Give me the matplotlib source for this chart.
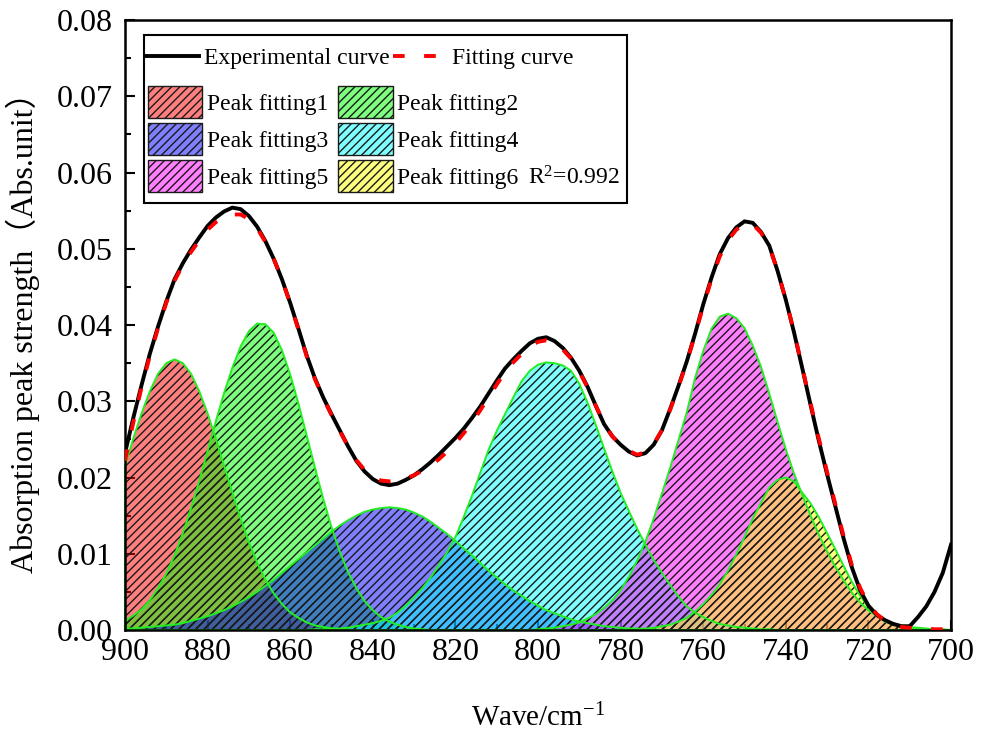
#!/usr/bin/env python3

import matplotlib

matplotlib.use("Agg")
import matplotlib.pyplot as plt
from matplotlib.colors import to_rgb
from matplotlib.lines import Line2D
from matplotlib.patches import Patch, Rectangle
from matplotlib.ticker import MultipleLocator

# sampling grids (cm^-1), every 2 cm^-1 across the span of each trace
wave = list(range(900, 699, -2))
wave_p1 = list(range(900, 845, -2))
wave_p2 = list(range(900, 825, -2))
wave_p3 = list(range(900, 769, -2))
wave_p4 = list(range(856, 741, -2))
wave_p5 = list(range(804, 699, -2))
wave_p6 = list(range(780, 703, -2))

experimental = [
    0.0232, 0.0278, 0.0321, 0.0362, 0.0398, 0.0431, 0.0460, 0.0481, 0.0499, 0.0515,
    0.0530, 0.0541, 0.0549, 0.0554, 0.0552, 0.0543, 0.0529, 0.0510, 0.0487, 0.0460,
    0.0429, 0.0395, 0.0360, 0.0330, 0.0305, 0.0283, 0.0262, 0.0241, 0.0222, 0.0208,
    0.0198, 0.0192, 0.0190, 0.0192, 0.0197, 0.0203, 0.0211, 0.0220, 0.0230, 0.0241,
    0.0252, 0.0264, 0.0278, 0.0293, 0.0310, 0.0327, 0.0343, 0.0355, 0.0366, 0.0376,
    0.0382, 0.0384, 0.0379, 0.0370, 0.0357, 0.0340, 0.0319, 0.0294, 0.0270, 0.0254,
    0.0243, 0.0234, 0.0229, 0.0232, 0.0243, 0.0262, 0.0290, 0.0320, 0.0352, 0.0388,
    0.0427, 0.0462, 0.0493, 0.0514, 0.0528, 0.0536, 0.0534, 0.0522, 0.0504, 0.0471,
    0.0433, 0.0390, 0.0343, 0.0295, 0.0248, 0.0204, 0.0162, 0.0120, 0.0082, 0.0052,
    0.0032, 0.0020, 0.0013, 0.0008, 0.0005, 0.0005, 0.0017, 0.0031, 0.0050, 0.0075,
    0.0112,
]

fitting = [
    0.0222, 0.0272, 0.0318, 0.0359, 0.0396, 0.0429, 0.0458, 0.0479, 0.0496, 0.0511,
    0.0525, 0.0535, 0.0542, 0.0545, 0.0545, 0.0539, 0.0527, 0.0509, 0.0487, 0.0460,
    0.0428, 0.0394, 0.0359, 0.0329, 0.0304, 0.0282, 0.0261, 0.0241, 0.0223, 0.0210,
    0.0201, 0.0196, 0.0195, 0.0196, 0.0199, 0.0203, 0.0209, 0.0216, 0.0224, 0.0234,
    0.0245, 0.0258, 0.0272, 0.0288, 0.0305, 0.0322, 0.0338, 0.0351, 0.0362, 0.0372,
    0.0378, 0.0380, 0.0376, 0.0368, 0.0356, 0.0339, 0.0318, 0.0294, 0.0271, 0.0254,
    0.0243, 0.0235, 0.0230, 0.0233, 0.0244, 0.0262, 0.0289, 0.0319, 0.0351, 0.0387,
    0.0425, 0.0460, 0.0490, 0.0511, 0.0525, 0.0533, 0.0532, 0.0521, 0.0503, 0.0471,
    0.0433, 0.0391, 0.0344, 0.0297, 0.0251, 0.0207, 0.0165, 0.0123, 0.0085, 0.0055,
    0.0034, 0.0021, 0.0012, 0.0007, 0.0004, 0.0003, 0.0002, 0.0002, 0.0001, 0.0001,
    0.0001,
]

peak1 = [
    0.0215, 0.0251, 0.0284, 0.0313, 0.0336, 0.0350, 0.0355, 0.0350, 0.0336, 0.0313,
    0.0284, 0.0251, 0.0215, 0.0180, 0.0146, 0.0115, 0.0088, 0.0066, 0.0048, 0.0034,
    0.0023, 0.0016, 0.0010, 0.0006, 0.0004, 0.0002, 0.0001, 0.0000,
]

peak2 = [
    0.0012, 0.0019, 0.0027, 0.0039, 0.0055, 0.0074, 0.0098, 0.0127, 0.0160, 0.0196,
    0.0235, 0.0274, 0.0311, 0.0344, 0.0372, 0.0392, 0.0402, 0.0401, 0.0390, 0.0367,
    0.0335, 0.0297, 0.0255, 0.0213, 0.0172, 0.0135, 0.0103, 0.0076, 0.0055, 0.0038,
    0.0026, 0.0017, 0.0011, 0.0007, 0.0004, 0.0002, 0.0001, 0.0000,
]

peak3 = [
    0.0002, 0.0002, 0.0003, 0.0004, 0.0005, 0.0006, 0.0007, 0.0009, 0.0012, 0.0015,
    0.0018, 0.0022, 0.0026, 0.0031, 0.0037, 0.0043, 0.0050, 0.0058, 0.0066, 0.0075,
    0.0084, 0.0093, 0.0102, 0.0111, 0.0120, 0.0129, 0.0137, 0.0144, 0.0150, 0.0155,
    0.0158, 0.0160, 0.0161, 0.0160, 0.0158, 0.0154, 0.0149, 0.0142, 0.0134, 0.0126,
    0.0117, 0.0107, 0.0098, 0.0088, 0.0078, 0.0069, 0.0060, 0.0052, 0.0045, 0.0038,
    0.0032, 0.0026, 0.0022, 0.0018, 0.0014, 0.0011, 0.0009, 0.0007, 0.0005, 0.0004,
    0.0003, 0.0002, 0.0002, 0.0001, 0.0001, 0.0000,
]

peak4 = [
    0.0000, 0.0001, 0.0001, 0.0002, 0.0002, 0.0003, 0.0005, 0.0007, 0.0009, 0.0012,
    0.0016, 0.0023, 0.0032, 0.0043, 0.0055, 0.0069, 0.0085, 0.0102, 0.0122, 0.0148,
    0.0176, 0.0206, 0.0236, 0.0261, 0.0283, 0.0305, 0.0326, 0.0340, 0.0348, 0.0351,
    0.0350, 0.0347, 0.0340, 0.0323, 0.0298, 0.0269, 0.0238, 0.0208, 0.0180, 0.0156,
    0.0133, 0.0112, 0.0092, 0.0075, 0.0059, 0.0044, 0.0031, 0.0023, 0.0017, 0.0012,
    0.0008, 0.0006, 0.0004, 0.0003, 0.0002, 0.0001, 0.0001, 0.0000,
]

peak5 = [
    0.0000, 0.0000, 0.0001, 0.0002, 0.0003, 0.0005, 0.0007, 0.0010, 0.0015, 0.0021,
    0.0029, 0.0039, 0.0052, 0.0070, 0.0091, 0.0116, 0.0146, 0.0179, 0.0213, 0.0249,
    0.0285, 0.0330, 0.0366, 0.0395, 0.0411, 0.0415, 0.0409, 0.0396, 0.0373, 0.0345,
    0.0310, 0.0273, 0.0237, 0.0205, 0.0177, 0.0150, 0.0125, 0.0103, 0.0083, 0.0065,
    0.0049, 0.0036, 0.0026, 0.0018, 0.0013, 0.0009, 0.0006, 0.0004, 0.0003, 0.0002,
    0.0001, 0.0001, 0.0000,
]

peak6 = [
    0.0000, 0.0001, 0.0001, 0.0002, 0.0003, 0.0005, 0.0007, 0.0011, 0.0016, 0.0024,
    0.0034, 0.0046, 0.0060, 0.0078, 0.0099, 0.0122, 0.0146, 0.0167, 0.0187, 0.0197,
    0.0200, 0.0195, 0.0180, 0.0166, 0.0148, 0.0127, 0.0106, 0.0084, 0.0063, 0.0045,
    0.0030, 0.0019, 0.0011, 0.0007, 0.0004, 0.0002, 0.0001, 0.0000, 0.0000,
]

peak_waves = [wave_p1, wave_p2, wave_p3, wave_p4, wave_p5, wave_p6]
peaks = [peak1, peak2, peak3, peak4, peak5, peak6]
peak_labels = ["Peak fitting1", "Peak fitting2", "Peak fitting3",
               "Peak fitting4", "Peak fitting5", "Peak fitting6"]
peak_colors = ["#ff0000", "#00ff00", "#0000ff", "#00ffff", "#ff00ff", "#ffff00"]
r_squared = "0.992"

x_ticks = [900, 880, 860, 840, 820, 800, 780, 760, 740, 720, 700]
y_ticks = [0.00, 0.01, 0.02, 0.03, 0.04, 0.05, 0.06, 0.07, 0.08]

SERIF = "Liberation Serif"
FIT_DASH = (0, (3, 5))
HATCH = "////"


def main() -> None:
    plt.rcParams["font.family"] = [SERIF, "Noto Sans CJK SC", "DejaVu Sans"]
    plt.rcParams["mathtext.fontset"] = "custom"
    plt.rcParams["mathtext.rm"] = SERIF
    plt.rcParams["mathtext.it"] = SERIF + ":italic"
    plt.rcParams["hatch.linewidth"] = 1.0

    fig = plt.figure(figsize=(9.92, 7.32), dpi=100)
    ax = fig.add_axes([0.126, 0.1393, 0.8327, 0.8333])

    # fitted peaks: tinted fill, black hatching, bright green outline
    for xs, ys, color in zip(peak_waves, peaks, peak_colors):
        ax.fill_between(xs, 0, ys, facecolor=color, alpha=0.5, linewidth=0, zorder=2)
        ax.fill_between(xs, 0, ys, facecolor="none", edgecolor="#1a1a1a", hatch=HATCH,
                        linewidth=0, zorder=2.1)
    for xs, ys in zip(peak_waves, peaks):
        ax.fill_between(xs, 0, ys, facecolor="none", edgecolor="#22ee22",
                        linewidth=1.4, zorder=2.2, clip_on=False)

    ax.plot(wave, experimental, color="black", linewidth=2.8, zorder=3)
    ax.plot(wave, fitting, color="red", linewidth=2.8, linestyle=FIT_DASH, zorder=4)

    ax.set_xlim(900, 700)
    ax.set_ylim(0, 0.08)
    ax.set_xticks(x_ticks)
    ax.set_yticks(y_ticks)
    ax.set_yticklabels([f"{v:.2f}" for v in y_ticks])
    ax.xaxis.set_minor_locator(MultipleLocator(10))
    ax.yaxis.set_minor_locator(MultipleLocator(0.005))
    ax.tick_params(which="both", direction="in", width=1.5, labelsize=23)
    ax.tick_params(which="major", length=7)
    ax.tick_params(which="minor", length=4)
    ax.tick_params(axis="y", pad=9)
    ax.tick_params(axis="x", pad=6)
    for spine in ax.spines.values():
        spine.set_linewidth(1.8)

    ax.set_xlabel("Wave/cm$^{-1}$", fontsize=21, labelpad=26)
    ax.set_ylabel("Absorption peak strength（Abs.unit）", fontsize=23, labelpad=12)

    # legend: one framed box holding a line row and a 2x3 block of patches
    frame = Rectangle((0.023, 0.700), 0.585, 0.2754, transform=ax.transAxes,
                      facecolor="white", edgecolor="black", linewidth=1.5, zorder=4.5)
    ax.add_patch(frame)

    line_handles = [
        Line2D([], [], color="black", linewidth=2.8),
        Line2D([], [], color="red", linewidth=2.8, linestyle=FIT_DASH),
    ]
    leg_lines = ax.legend(line_handles, ["Experimental curve", "Fitting curve"], ncol=2,
                          loc="center left", bbox_to_anchor=(0.0242, 0.937),
                          borderaxespad=0, borderpad=0, frameon=False, fontsize=17,
                          handlelength=2.3, handletextpad=0.2, columnspacing=0.15)
    leg_lines.set_zorder(5)
    ax.add_artist(leg_lines)

    patch_handles = [Patch(facecolor=(*to_rgb(c), 0.5), edgecolor="#1a1a1a", hatch=HATCH,
                           linewidth=1.0) for c in peak_colors]
    # matplotlib fills legend columns first, the reference reads row by row
    order = [0, 2, 4, 1, 3, 5]
    leg_peaks = ax.legend([patch_handles[i] for i in order], [peak_labels[i] for i in order],
                          ncol=2, loc="center left", bbox_to_anchor=(0.0278, 0.805),
                          borderaxespad=0, borderpad=0, frameon=False, fontsize=17,
                          handlelength=2.3, handleheight=1.7, handletextpad=0.2,
                          labelspacing=0.22, columnspacing=0.42)
    leg_peaks.set_zorder(5)

    ax.text(0.488, 0.741, f"R$^{{2}}$={r_squared}", transform=ax.transAxes,
            fontsize=17, va="center", ha="left", zorder=6)

    fig.savefig("out.png", dpi=100)


if __name__ == "__main__":
    main()
